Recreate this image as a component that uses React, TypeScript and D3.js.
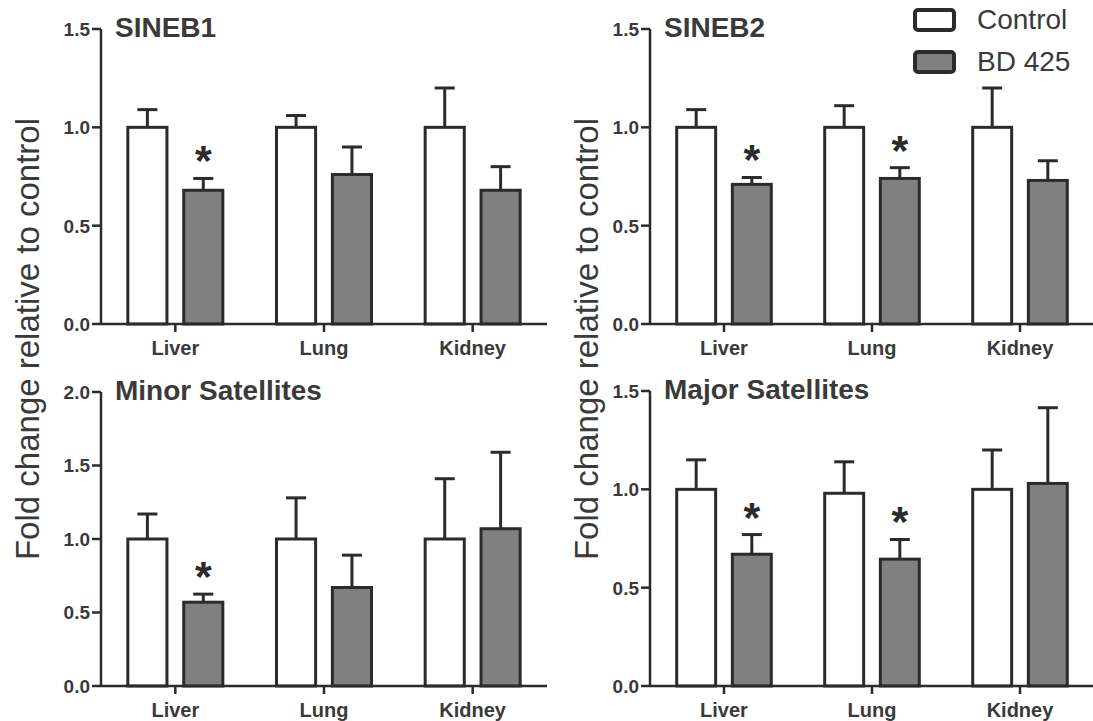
import React from 'react'
import * as d3 from 'd3'

const categories = ['Liver', 'Lung', 'Kidney']
const groups = ['Control', 'BD 425']

// mean and upper error (SEM) per tissue
const sineb1Control = [1.0, 1.0, 1.0]
const sineb1ControlErr = [0.09, 0.06, 0.2]
const sineb1Bd = [0.68, 0.76, 0.68]
const sineb1BdErr = [0.06, 0.14, 0.12]
const sineb1Sig = [true, false, false]

const sineb2Control = [1.0, 1.0, 1.0]
const sineb2ControlErr = [0.09, 0.11, 0.2]
const sineb2Bd = [0.71, 0.74, 0.73]
const sineb2BdErr = [0.035, 0.055, 0.1]
const sineb2Sig = [true, true, false]

const minorControl = [1.0, 1.0, 1.0]
const minorControlErr = [0.17, 0.28, 0.41]
const minorBd = [0.57, 0.67, 1.07]
const minorBdErr = [0.055, 0.22, 0.52]
const minorSig = [true, false, false]

const majorControl = [1.0, 0.98, 1.0]
const majorControlErr = [0.15, 0.16, 0.2]
const majorBd = [0.67, 0.645, 1.03]
const majorBdErr = [0.1, 0.1, 0.385]
const majorSig = [true, true, false]

const yTicksShort = [0, 0.5, 1.0, 1.5]
const yTicksTall = [0, 0.5, 1.0, 1.5, 2.0]

const yLabel = 'Fold change relative to control'

const FONT = '"Liberation Sans", Arial, Helvetica, sans-serif'
const INK = '#2b2b2b'
const TEXT = '#3a3a3a'
const GREY = '#808080'

const panels = [
  {title: 'SINEB1', control: sineb1Control, controlErr: sineb1ControlErr, bd: sineb1Bd, bdErr: sineb1BdErr, sig: sineb1Sig, ticks: yTicksShort},
  {title: 'SINEB2', control: sineb2Control, controlErr: sineb2ControlErr, bd: sineb2Bd, bdErr: sineb2BdErr, sig: sineb2Sig, ticks: yTicksShort},
  {title: 'Minor Satellites', control: minorControl, controlErr: minorControlErr, bd: minorBd, bdErr: minorBdErr, sig: minorSig, ticks: yTicksTall},
  {title: 'Major Satellites', control: majorControl, controlErr: majorControlErr, bd: majorBd, bdErr: majorBdErr, sig: majorSig, ticks: yTicksShort},
]

// layout of the four panels (left axis, right end, top tick, baseline)
const layout = [
  {left: 101, right: 547, top: 29, bottom: 324},
  {left: 650, right: 1094, top: 29, bottom: 324},
  {left: 101, right: 547, top: 392, bottom: 686},
  {left: 650, right: 1094, top: 391, bottom: 686},
]

const Panel = ({p, l}) => {
  const x = d3.scaleBand().domain(categories).range([l.left, l.right])
  const inner = d3.scaleBand().domain(groups).range([0, x.bandwidth()])
    .paddingInner(0.3).paddingOuter(0.48)
  const y = d3.scaleLinear().domain([0, d3.max(p.ticks)]).range([l.bottom, l.top])
  const fmt = d3.format('.1f')

  const bars = []
  categories.forEach((c, i) => {
    const vals = [p.control[i], p.bd[i]]
    const errs = [p.controlErr[i], p.bdErr[i]]
    groups.forEach((g, j) => {
      const bx = x(c) + inner(g)
      const bw = inner.bandwidth()
      const cx = bx + bw / 2
      const top = y(vals[j])
      const errTop = y(vals[j] + errs[j])
      bars.push(
        <g key={c + g}>
          <line x1={cx} x2={cx} y1={top} y2={errTop} stroke={INK} strokeWidth={3} />
          <line x1={cx - 10} x2={cx + 10} y1={errTop} y2={errTop} stroke={INK} strokeWidth={3} />
          <rect x={bx} y={top} width={bw} height={y(0) - top}
            fill={j === 0 ? '#fff' : GREY} stroke={INK} strokeWidth={3} />
          {j === 1 && p.sig[i] &&
            <text x={cx} y={errTop - 3} textAnchor="middle" fontFamily={FONT}
              fontWeight="bold" fontSize={43} fill={INK}>*</text>}
        </g>
      )
    })
  })

  return (
    <g>
      <text x={l.left + 14} y={l.top + 8} fontFamily={FONT} fontWeight="bold"
        fontSize={28} fill={TEXT}>{p.title}</text>
      {bars}
      <line x1={l.left} x2={l.left} y1={y(d3.max(p.ticks))} y2={y(0)} stroke={INK} strokeWidth={2.5} />
      <line x1={l.left} x2={l.right} y1={y(0)} y2={y(0)} stroke={INK} strokeWidth={2.5} />
      {p.ticks.map(t => (
        <g key={t}>
          <line x1={l.left - 9} x2={l.left} y1={y(t)} y2={y(t)} stroke={INK} strokeWidth={2.5} />
          <text x={l.left - 11} y={y(t)} dy="0.36em" textAnchor="end" fontFamily={FONT}
            fontWeight="bold" fontSize={19} fill={TEXT}>{fmt(t)}</text>
        </g>
      ))}
      {categories.map(c => (
        <g key={c}>
          <line x1={x(c) + x.bandwidth() / 2} x2={x(c) + x.bandwidth() / 2} y1={y(0)} y2={y(0) + 8}
            stroke={INK} strokeWidth={2.5} />
          <text x={x(c) + x.bandwidth() / 2} y={y(0) + 31} textAnchor="middle" fontFamily={FONT}
            fontWeight="bold" fontSize={20} fill={TEXT}>{c}</text>
        </g>
      ))}
    </g>
  )
}

const App = () => {
  return (
    <svg width={1093} height={721} style={{position: 'absolute', left: 0, top: 0, background: '#fff'}}>
      {panels.map((p, i) => <Panel key={p.title} p={p} l={layout[i]} />)}
      <text transform="translate(39,339) rotate(-90)" textAnchor="middle" fontFamily={FONT}
        fontSize={33} fill={TEXT}>{yLabel}</text>
      <text transform="translate(598,339) rotate(-90)" textAnchor="middle" fontFamily={FONT}
        fontSize={33} fill={TEXT}>{yLabel}</text>
      {groups.map((g, i) => (
        <g key={g}>
          <rect x={915} y={10 + i * 42} width={39} height={20} rx={3}
            fill={i === 0 ? '#fff' : GREY} stroke={INK} strokeWidth={4} />
          <text x={977} y={29 + i * 42} fontFamily={FONT} fontSize={28} fill={TEXT}>{g}</text>
        </g>
      ))}
    </svg>
  )
}

export default App
